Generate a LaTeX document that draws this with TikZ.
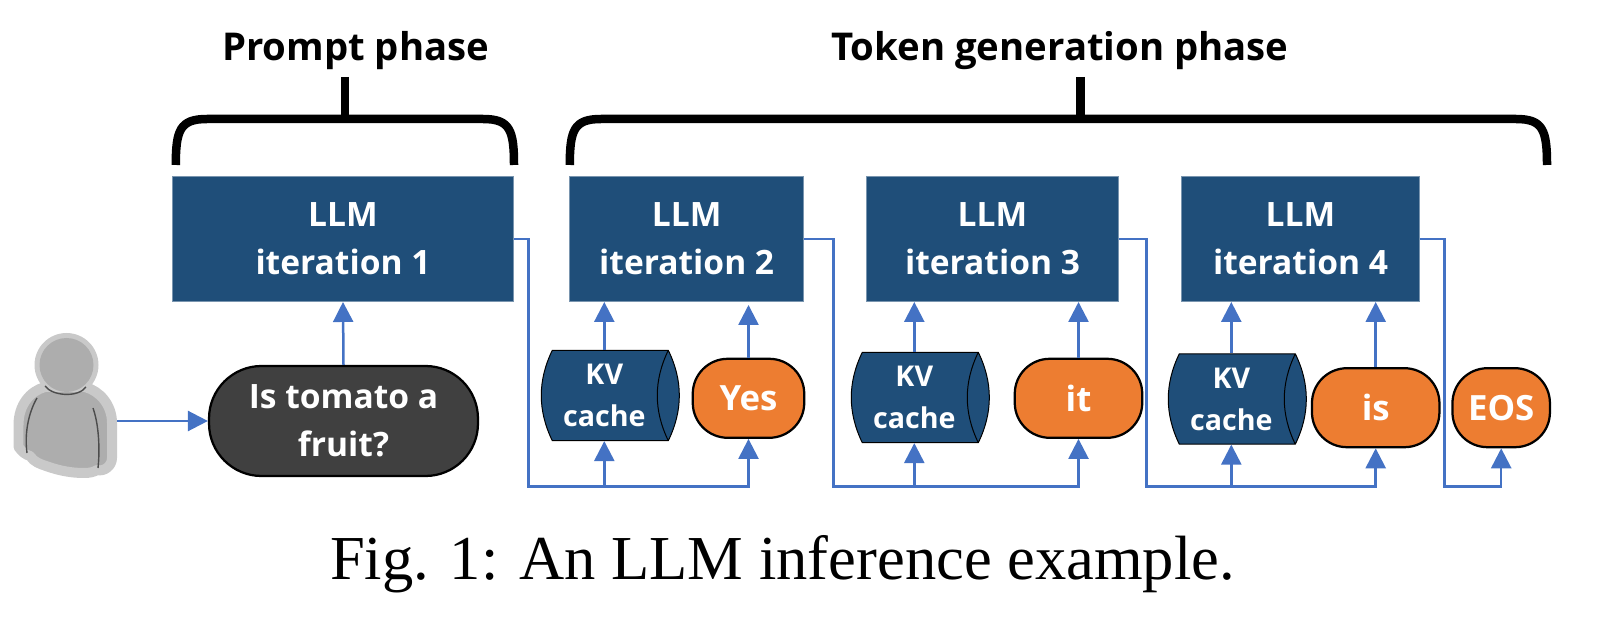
\documentclass[tikz,border=0pt]{standalone}
\usepackage{fontspec}
\setmainfont{Open Sans}
\newfontfamily\capfont{Liberation Serif}
\usetikzlibrary{arrows.meta}
\definecolor{boxblue}{HTML}{1F4E79}
\definecolor{wireblue}{HTML}{4472C4}
\definecolor{tokenorange}{HTML}{ED7D31}
\definecolor{pilldark}{HTML}{404040}
\definecolor{halogray}{HTML}{C9C9C9}
\definecolor{bodygray}{HTML}{ADADAD}
\tikzset{
  iterbox/.style={rectangle,fill=boxblue,draw=boxblue!60!white,line width=0.02cm,minimum width=#1,minimum height=2.5cm,text=white,align=center,font=\fontsize{19.1}{27.3}\selectfont\bfseries,inner sep=0pt},
  kvdrum/.style={fill=boxblue,draw=black,line width=0.02cm},
  kvbox/.style={rectangle,minimum width=2.2cm,minimum height=1.81cm,text=white,align=center,font=\fontsize{16.3}{23.9}\selectfont\bfseries,inner sep=0pt},
  tokenbox/.style={rectangle,rounded corners=0.7cm,fill=tokenorange,draw=black,line width=0.045cm,minimum width=#1,minimum height=1.58cm,text=white,align=center,font=\fontsize{19.8}{27.3}\selectfont\bfseries,inner sep=0pt},
  wire/.style={draw=wireblue,line width=0.05cm},
  flow/.style={wire,-{Triangle[length=0.4cm,width=0.4cm]}},
  brace/.style={line width=0.17cm,line cap=butt},
  phaselabel/.style={font=\fontsize{21.8}{26}\selectfont\bfseries,inner sep=0pt}
}
\begin{document}
\begin{tikzpicture}[x=0.02cm,y=-0.02cm]
\useasboundingbox (0,0) rectangle (1606,621);
\node[phaselabel] (prompt) at (355.7,51) {Prompt phase};
\node[phaselabel] (token) at (1060,51) {Token generation phase};
\draw[brace] (175.8,165) .. controls (175.8,130) and (180,119) .. (207,119) -- (483,119) .. controls (510,119) and (514,130) .. (514,165);
\draw[brace] (344.8,77) -- (344.8,119);
\draw[brace] (569.8,165) .. controls (569.8,130) and (574,119) .. (601,119) -- (1516,119) .. controls (1543,119) and (1547,130) .. (1547,165);
\draw[brace] (1080.5,77) -- (1080.5,119);
\node[iterbox=6.83cm] (iter1) at (343,239) {LLM\\iteration 1};
\node[iterbox=4.68cm] (iter2) at (686.7,239) {LLM\\iteration 2};
\node[iterbox=5.03cm] (iter3) at (992.5,239) {LLM\\iteration 3};
\node[iterbox=4.75cm] (iter4) at (1300.5,239) {LLM\\iteration 4};
\foreach \kvx/\kvy in {604.3/395.5,914.3/397.5,1231.3/399}
\draw[kvdrum,shift={(\kvx,\kvy)}] (-52,-45.2) .. controls (-66.7,-15) and (-66.7,15) .. (-52,45.2) -- (64,45.2) .. controls (78.7,15) and (78.7,-15) .. (64,-45.2) -- cycle (64,-45.2) .. controls (49.3,-15) and (49.3,15) .. (64,45.2);
\node[kvbox] (kv1) at (604.3,395.5) {KV\\cache};
\node[kvbox] (kv2) at (914.3,397.5) {KV\\cache};
\node[kvbox] (kv3) at (1231.3,399) {KV\\cache};
\node[tokenbox=2.23cm] (yes) at (748.5,398.3) {Yes};
\node[tokenbox=2.55cm] (it) at (1078.5,398.3) {it};
\node[tokenbox=2.55cm] (is) at (1375.7,407.7) {is};
\node[tokenbox=1.95cm] (eos) at (1501.2,407.7) {EOS};
\node[rectangle,rounded corners=1.05cm,fill=pilldark,draw=black,line width=0.045cm,minimum width=5.38cm,minimum height=2.2cm,text=white,align=center,font=\fontsize{19.1}{27.3}\selectfont\bfseries,inner sep=0pt] (question) at (343.5,421) {Is tomato a\\fruit?};
\fill[halogray] (66.5,365) circle (32);
\draw[halogray,line width=0.2cm,line join=round,fill=bodygray] (18.5,447) .. controls (22,452) and (26,455) .. (30,456) .. controls (34,462) and (40,464) .. (46,466) .. controls (60,471) and (72,473) .. (84,473) .. controls (90,473) and (94,472) .. (97,470) .. controls (104,472) and (112,466) .. (112,458) -- (112,423) .. controls (112,405) and (100,391) .. (85,387) -- (45,387) .. controls (30,391) and (18.5,405) .. (18.5,425) -- cycle;
\fill[bodygray] (66.5,365) circle (27);
\draw[black!70,line width=0.028cm] (45,386) .. controls (52,396) and (78,398) .. (86,387);
\draw[black!70,line width=0.028cm] (37,398) .. controls (30,410) and (24,430) .. (27,453);
\draw[black!70,line width=0.028cm] (93,408) .. controls (99,425) and (100,450) .. (98,468);
\coordinate (user) at (117,421);
\coordinate (bus1) at (528.3,486.5);
\coordinate (bus2) at (833.7,486.5);
\coordinate (bus3) at (1146.3,486.5);
\coordinate (bus4) at (1444.3,486.5);
\draw[flow] (user) -- (question.west);
\draw[flow] (question.north) -- (iter1.south);
\draw[flow] (iter1.east) -| (bus1) -| (yes.south);
\draw[flow] (kv1.south |- bus1) -- (kv1.south);
\draw[flow] (kv1.north) -- (kv1.north |- iter2.south);
\draw[flow,shorten >=0.06cm] (yes.north) -- (yes.north |- iter2.south);
\draw[flow] (iter2.east) -| (bus2) -| (it.south);
\draw[flow] (kv2.south |- bus2) -- (kv2.south);
\draw[flow] (kv2.north) -- (kv2.north |- iter3.south);
\draw[flow] (it.north) -- (it.north |- iter3.south);
\draw[flow] (iter3.east) -| (bus3) -| (is.south);
\draw[flow] (kv3.south |- bus3) -- (kv3.south);
\draw[flow] (kv3.north) -- (kv3.north |- iter4.south);
\draw[flow] (is.north) -- (is.north |- iter4.south);
\draw[flow] (iter4.east) -| (bus4) -| (eos.south);
\node[font=\fontsize{35.6}{42}\capfont,inner sep=0pt,anchor=base] (caption) at (782.5,579) {Fig. 1: An LLM inference example.};
\end{tikzpicture}
\end{document}
